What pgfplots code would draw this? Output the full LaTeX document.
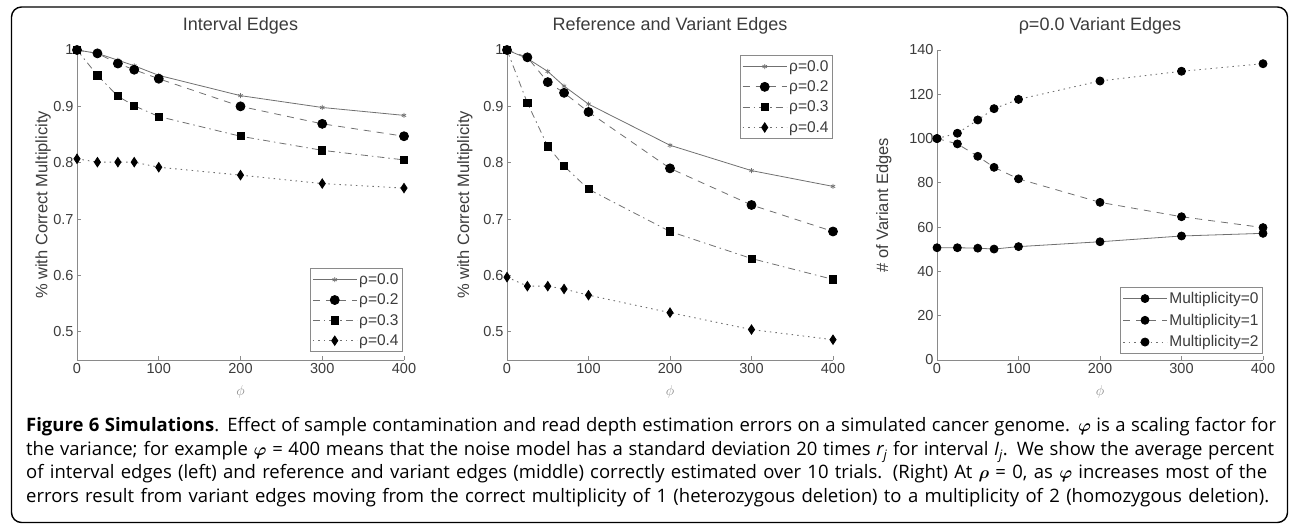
\documentclass[border=0pt]{standalone}
\usepackage{pgfplots}
\pgfplotsset{compat=1.18}
\usepackage{pgfplotstable}
\usepackage{fontspec}
\setmainfont{Open Sans}
\newfontfamily\helv{Liberation Sans}
\definecolor{axgray}{HTML}{8A8A8A}
\definecolor{txtgray}{HTML}{3C3C3C}
\definecolor{lngray}{HTML}{707070}

\pgfplotstableread{
x   r0    r2    r3    r4
0   1.000 1.000 1.000 0.807
25  0.994 0.994 0.955 0.801
50  0.982 0.976 0.918 0.801
70  0.972 0.965 0.901 0.801
100 0.955 0.949 0.882 0.792
200 0.919 0.900 0.847 0.778
300 0.898 0.869 0.822 0.763
400 0.884 0.847 0.805 0.755
}\interval
\pgfplotstableread{
x   r0    r2    r3    r4
0   1.000 1.000 1.000 0.597
25  0.985 0.987 0.906 0.581
50  0.962 0.943 0.829 0.581
70  0.936 0.924 0.794 0.576
100 0.904 0.890 0.753 0.565
200 0.831 0.790 0.678 0.534
300 0.786 0.725 0.630 0.504
400 0.758 0.678 0.593 0.486
}\refvar
\pgfplotstableread{
x   m0   m1    m2
0   50.7 100.0 100.0
25  50.7 97.6  102.4
50  50.5 92.0  108.4
70  50.1 87.0  113.5
100 51.2 81.8  117.7
200 53.4 71.2  126.0
300 56.0 64.7  130.4
400 57.2 59.8  133.8
}\variant

\pgfplotsset{
  mystyle/.style={
    scale only axis, height=310pt,
    xmin=0, xmax=400,
    axis x line*=bottom, axis y line*=left,
    axis line style={axgray, line width=0.9pt},
    tick style={axgray, line width=0.8pt},
    tick align=inside, major tick length=3.5pt,
    xtick={0,100,200,300,400},
    /pgf/number format/assume math mode=true,
    tick label style={font=\helv\fontsize{14.5}{16}\selectfont, text=txtgray},
    title style={font=\helv\fontsize{18}{20}\selectfont, text=txtgray, at={(axis description cs:0.5,1.058)}, anchor=center},
    xlabel={$\phi$},
    xlabel style={font=\fontsize{15}{16}\selectfont, text=axgray, at={(axis description cs:0.5,-0.103)}, anchor=center},
    ylabel style={font=\helv\fontsize{16.5}{18}\selectfont, text=txtgray, anchor=center},
    legend style={font=\helv\fontsize{15.5}{17}\selectfont, text=txtgray, draw=axgray, line width=0.8pt, inner xsep=2pt, inner ysep=3pt, row sep=4pt},
    legend cell align=left,
    legend image code/.code={\draw[mark repeat=2,mark phase=2] plot coordinates {(0pt,0pt) (22pt,0pt) (44pt,0pt)};},
  },
  s0/.style={lngray, line width=0.8pt, solid, mark=asterisk, mark size=2.5pt, mark options={solid, lngray, line width=0.7pt}},
  s2/.style={lngray, line width=0.8pt, dash pattern=on 7pt off 6pt, mark=*, mark size=4.5pt, mark options={solid, black, fill=black}},
  s3/.style={lngray, line width=0.8pt, dash pattern=on 7pt off 4pt on 1.5pt off 4pt, mark=square*, mark size=3.6pt, mark options={solid, black, fill=black}},
  s4/.style={lngray, line width=0.9pt, dash pattern=on 1.5pt off 4pt, mark=diamond*, mark size=4.6pt, mark options={solid, black, fill=black, xscale=0.88}},
  m0/.style={lngray, line width=0.8pt, solid, mark=*, mark size=4pt, mark options={solid, black, fill=black}},
  m1/.style={lngray, line width=0.8pt, dash pattern=on 7pt off 6pt, mark=*, mark size=4pt, mark options={solid, black, fill=black}},
  m2/.style={lngray, line width=0.9pt, dash pattern=on 1.5pt off 4pt, mark=*, mark size=4pt, mark options={solid, black, fill=black}},
}

\begin{document}
\begin{tikzpicture}[x=1pt,y=1pt]
\useasboundingbox (0,0) rectangle (1290,524);
\draw[line width=1.4pt, rounded corners=10pt] (11.5,1.5) rectangle (1287.5,517);

% Left
\begin{axis}[mystyle, at={(77pt,164pt)}, anchor=south west, width=327pt,
  ymin=0.45, ymax=1, ytick={0.5,0.6,0.7,0.8,0.9,1},
  title={Interval Edges},
  ylabel={\% with Correct Multiplicity},
  ylabel style={at={(axis description cs:-0.104,0.5)}},
  legend style={at={(0.997,0.025)}, anchor=south east}]
\addplot[s0] table[x=x,y=r0]{\interval};
\addplot[s2] table[x=x,y=r2]{\interval};
\addplot[s3] table[x=x,y=r3]{\interval};
\addplot[s4] table[x=x,y=r4]{\interval};
\legend{ρ=0.0,ρ=0.2,ρ=0.3,ρ=0.4}
\end{axis}

% Middle
\begin{axis}[mystyle, at={(507pt,164pt)}, anchor=south west, width=326pt,
  ymin=0.45, ymax=1, ytick={0.5,0.6,0.7,0.8,0.9,1},
  title={Reference and Variant Edges},
  ylabel={\% with Correct Multiplicity},
  ylabel style={at={(axis description cs:-0.129,0.5)}},
  legend style={at={(1,0.984)}, anchor=north east}]
\addplot[s0] table[x=x,y=r0]{\refvar};
\addplot[s2] table[x=x,y=r2]{\refvar};
\addplot[s3] table[x=x,y=r3]{\refvar};
\addplot[s4] table[x=x,y=r4]{\refvar};
\legend{ρ=0.0,ρ=0.2,ρ=0.3,ρ=0.4}
\end{axis}

% Right
\begin{axis}[mystyle, at={(937pt,164pt)}, anchor=south west, width=326pt,
  ymin=0, ymax=140, ytick={0,20,40,60,80,100,120,140},
  title={ρ=0.0 Variant Edges},
  ylabel={\# of Variant Edges},
  ylabel style={at={(axis description cs:-0.163,0.5)}},
  legend style={at={(1,0.02)}, anchor=south east, row sep=5pt}]
\addplot[m0] table[x=x,y=m0]{\variant};
\addplot[m1] table[x=x,y=m1]{\variant};
\addplot[m2] table[x=x,y=m2]{\variant};
\legend{Multiplicity=0,Multiplicity=1,Multiplicity=2}
\end{axis}

\begin{scope}[every node/.style={anchor=base west, inner sep=0pt, font=\fontsize{18.5}{22}\selectfont}]
\node at (26,92) {\makebox[1250pt][s]{\textbf{Figure 6 Simulations}. Effect of sample contamination and read depth estimation errors on a simulated cancer genome. {\boldmath$\varphi$} is a scaling factor for}};
\node at (26,68) {\makebox[1248pt][s]{the variance; for example {\boldmath$\varphi$} = 400 means that the noise model has a standard deviation 20 times {\itshape r}\textsubscript{\itshape j} for interval {\itshape I}\textsubscript{\itshape j}. We show the average percent}};
\node at (26,45) {\makebox[1241pt][s]{of interval edges (left) and reference and variant edges (middle) correctly estimated over 10 trials. (Right) At {\boldmath$\rho$} = 0, as {\boldmath$\varphi$} increases most of the}};
\node at (26,21) {\makebox[1243pt][s]{errors result from variant edges moving from the correct multiplicity of 1 (heterozygous deletion) to a multiplicity of 2 (homozygous deletion).}};
\end{scope}
\end{tikzpicture}
\end{document}
